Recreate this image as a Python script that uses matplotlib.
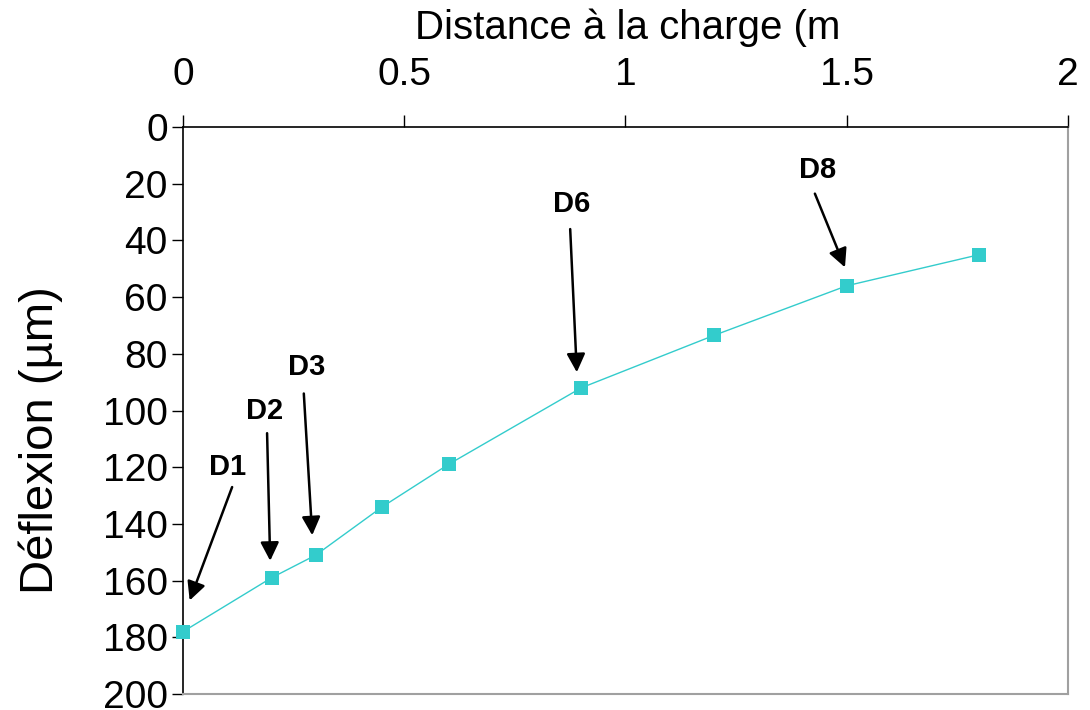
import matplotlib.pyplot as plt

plt.rcParams['font.family'] = ['Liberation Sans', 'DejaVu Sans']

# deflexion measured along the beam
distance = [0.0, 0.2, 0.3, 0.45, 0.6, 0.9, 1.2, 1.5, 1.8]
deflexion = [178, 159, 151, 134, 119, 92, 73.5, 56, 45]

# labelled sensors: name, text position, arrow tail, arrow head
sensors = [
    ('D1', (0.10, 120), (0.111, 127), (0.015, 167)),
    ('D2', (0.185, 100), (0.19, 108), (0.197, 153)),
    ('D3', (0.28, 84.5), (0.273, 94), (0.292, 144)),
    ('D6', (0.879, 27), (0.875, 36), (0.89, 86.5)),
    ('D8', (1.433, 15), (1.428, 23.5), (1.496, 49.5)),
]

fig = plt.figure(figsize=(10.9, 7.1), dpi=100)
ax = fig.add_axes([0.1679, 0.0225, 0.8119, 0.7986])

ax.plot(distance, deflexion, color='#33CCCC', lw=1.0, marker='s',
        markersize=10, markeredgewidth=0, clip_on=False, zorder=3)

ax.set_xlim(0, 2)
ax.set_ylim(200, 0)
ax.set_xticks([0, 0.5, 1, 1.5, 2])
ax.set_xticklabels(['0', '0.5', '1', '1.5', '2'])
ax.set_yticks(range(0, 201, 20))

ax.xaxis.tick_top()
ax.tick_params(axis='both', direction='out', width=1,
               labelsize=28, colors='black')
ax.tick_params(axis='x', length=8.5, pad=16)
ax.tick_params(axis='y', length=8, pad=3)

for side in ['top', 'left']:
    ax.spines[side].set_color('black')
    ax.spines[side].set_linewidth(1.2)
for side in ['right', 'bottom']:
    ax.spines[side].set_color('#a0a0a0')
    ax.spines[side].set_linewidth(1.5)

# axis titles
fig.text(415 / 1090, 1 - 39 / 710, 'Distance à la charge (m', fontsize=29,
         ha='left', va='baseline')
fig.text(41 / 1090, 1 - 440 / 710, 'Déflexion (µm)', fontsize=34,
         rotation=90, ha='center', va='center')

for name, txt, tail, head in sensors:
    ax.text(txt[0], txt[1], name, fontsize=21, fontweight='bold',
            ha='center', va='center')
    ax.annotate('', xy=head, xytext=tail,
                arrowprops=dict(arrowstyle='-|>', color='black', lw=1.8,
                                mutation_scale=28, shrinkA=0, shrinkB=0))

plt.savefig('out.png', dpi=100)
